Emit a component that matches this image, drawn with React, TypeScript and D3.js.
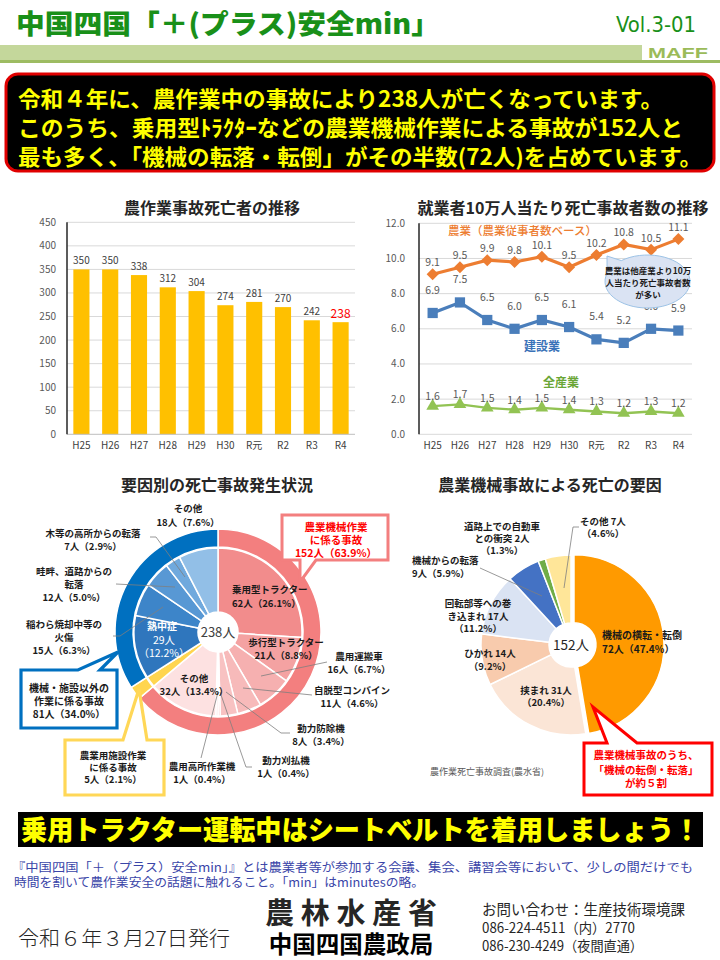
import React from "react";
import * as d3 from "d3";

const JP = "'Noto Sans CJK JP', 'Noto Sans', sans-serif";

// ---------------- data ----------------
const years = ["H25", "H26", "H27", "H28", "H29", "H30", "R元", "R2", "R3", "R4"];
const farmDeaths = [350, 350, 338, 312, 304, 274, 281, 270, 242, 238];
const deathTicks = [0, 50, 100, 150, 200, 250, 300, 350, 400, 450];

const rateTicks = [0, 2, 4, 6, 8, 10, 12];
const agriRate = [9.1, 9.5, 9.9, 9.8, 10.1, 9.5, 10.2, 10.8, 10.5, 11.1];
const constRate = [6.9, 7.5, 6.5, 6.0, 6.5, 6.1, 5.4, 5.2, 6.0, 5.9];
const allRate = [1.6, 1.7, 1.5, 1.4, 1.5, 1.4, 1.3, 1.2, 1.3, 1.2];

const groupNames = ["農業機械作業に係る事故", "農業用施設作業に係る事故", "機械・施設以外の作業に係る事故"];
const groupValues = [152, 5, 81];
const groupPct = ["63.9%", "2.1%", "34.0%"];

const detailNames = [
  "乗用型トラクター", "歩行型トラクター", "農用運搬車", "自脱型コンバイン", "動力防除機",
  "動力刈払機", "農用高所作業機", "その他", "農業用施設作業", "熱中症",
  "稲わら焼却中等の火傷", "畦畔、道路からの転落", "木等の高所からの転落", "その他",
];
const detailValues = [62, 21, 16, 11, 8, 1, 1, 32, 5, 29, 15, 12, 7, 18];
const detailPct = ["26.1%", "8.8%", "6.7%", "4.6%", "3.4%", "0.4%", "0.4%", "13.4%", "2.1%", "12.2%", "6.3%", "5.0%", "2.9%", "7.6%"];

const machineNames = ["機械の横転・転倒", "挟まれ", "ひかれ", "回転部等への巻き込まれ", "機械からの転落", "道路上での自動車との衝突", "その他"];
const machineValues = [72, 31, 14, 17, 9, 2, 7];
const machinePct = ["47.4%", "20.4%", "9.2%", "11.2%", "5.9%", "1.3%", "4.6%"];

const totalDeaths = 238;
const machineTotal = 152;

const headline = [
  "令和４年に、農作業中の事故により238人が亡くなっています。",
  "このうち、乗用型ﾄﾗｸﾀｰなどの農業機械作業による事故が152人と",
  "最も多く、「機械の転落・転倒」がその半数(72人)を占めています。",
];

// ---------------- styles ----------------
const groupColors = ["#f37f7f", "#ffd54f", "#0070c0"];
const detailColors = [
  "#f28c8c", "#f4a2a2", "#f6b0b0", "#f7baba", "#f8c2c2", "#f9caca", "#fad2d2", "#fde1e1",
  "#ffd54f", "#2f76bd", "#3d85c9", "#5898d4", "#70a9dd", "#92bfe7",
];
const machineColors = ["#ff9a00", "#fbe5d6", "#f8cbad", "#dae3f3", "#4472c4", "#70ad47", "#ffe699"];

type LP = { x: number; ys: number[]; anchor?: string };

function Lines({ x, ys, lines, size = 9.5, anchor = "middle", fill = "#1a1a1a", weight = 700 }: any) {
  return (
    <g>
      {lines.map((l: string, i: number) => (
        <text key={i} x={x} y={ys[i]} fontSize={size} fill={fill} fontWeight={weight}
          textAnchor={anchor} fontFamily={JP}>{l}</text>
      ))}
    </g>
  );
}

export default function App() {
  // ---- bar chart ----
  const xb = d3.scaleBand<string>().domain(years).range([67, 355]).paddingInner(0.44).paddingOuter(0.22);
  const yb = d3.scaleLinear().domain([0, 450]).range([434.3, 222.3]);

  // ---- line chart ----
  const xl = d3.scaleBand<string>().domain(years).range([419, 692]);
  const xlc = (i: number) => (xl(years[i]) as number) + xl.bandwidth() / 2;
  const yl = d3.scaleLinear().domain([0, 12]).range([434.3, 223.3]);
  const lineGen = d3.line<number>().x((_, i) => xlc(i)).y((d) => yl(d));
  const series = [
    { values: agriRate, color: "#ed7d31", width: 3.2, sym: d3.symbol(d3.symbolSquare, 72)(), rot: 45, off: 8 },
    { values: constRate, color: "#4a7ebb", width: 3.2, sym: d3.symbol(d3.symbolSquare, 105)(), rot: 0, off: 19 },
    { values: allRate, color: "#92c353", width: 2.4, sym: d3.symbol(d3.symbolTriangle, 70)(), rot: 0, off: 6 },
  ];

  // ---- left donut ----
  const pie = d3.pie<number>().sort(null).value((d) => d);
  const gArcs = pie(groupValues);
  const dArcs = pie(detailValues);
  const outerArc = d3.arc<d3.PieArcDatum<number>>().innerRadius(85).outerRadius(103);
  const innerArc = d3.arc<d3.PieArcDatum<number>>().innerRadius(20).outerRadius(84);
  const dc = [218, 632];

  // ---- right pie ----
  const mArcs = pie(machineValues);
  const mArc = d3.arc<d3.PieArcDatum<number>>().innerRadius(22).outerRadius(90);
  const mc = [571, 645];
  const explode = (a: d3.PieArcDatum<number>, i: number) => {
    if (i !== 0) return [0, 0];
    const m = (a.startAngle + a.endAngle) / 2;
    return [Math.sin(m) * 3, -Math.cos(m) * 3];
  };

  const pl = (i: number) => `${detailValues[i]}人（${detailPct[i]}）`;
  const ml = (i: number) => `${machineValues[i]}人`;

  const detailLabels: { i: number; lines: string[]; p: LP }[] = [
    { i: 0, lines: [detailNames[0], pl(0)], p: { x: 232, ys: [593, 607], anchor: "start" } },
    { i: 1, lines: [detailNames[1], pl(1)], p: { x: 286, ys: [646, 659] } },
    { i: 2, lines: [detailNames[2], pl(2)], p: { x: 359, ys: [660, 673] } },
    { i: 3, lines: [detailNames[3], pl(3)], p: { x: 352, ys: [694, 707] } },
    { i: 4, lines: [detailNames[4], pl(4)], p: { x: 321, ys: [732, 745] } },
    { i: 5, lines: [detailNames[5], pl(5)], p: { x: 286, ys: [764, 777] } },
    { i: 6, lines: [detailNames[6], pl(6)], p: { x: 202, ys: [770, 783] } },
    { i: 7, lines: [detailNames[7], pl(7)], p: { x: 194, ys: [682, 695] } },
    { i: 10, lines: ["稲わら焼却中等の", "火傷", pl(10)], p: { x: 64, ys: [628, 641, 654] } },
    { i: 11, lines: ["畦畔、道路からの", "転落", pl(11)], p: { x: 74, ys: [575, 588, 601] } },
    { i: 12, lines: [detailNames[12], pl(12)], p: { x: 93, ys: [537, 550] } },
    { i: 13, lines: [detailNames[13], pl(13)], p: { x: 188, ys: [512, 526] } },
  ];

  const leader = "#7f7f7f";

  return (
    <svg width={720} height={960} style={{ position: "absolute", left: 0, top: 0, background: "#fff" }}
      fontFamily={JP}>
      <rect x={0} y={0} width={720} height={960} fill="#fff" />

      {/* ---------- header ---------- */}
      <text x={16} y={34} fontSize={27} fontWeight={900} fill="#199019" textLength={424}
        lengthAdjust="spacingAndGlyphs">中国四国「＋(プラス)安全min」</text>
      <text x={616} y={32} fontSize={21} fill="#199019" textLength={80} lengthAdjust="spacingAndGlyphs"
        fontFamily="'Liberation Sans Narrow', 'DejaVu Sans Condensed', 'Liberation Sans', sans-serif">Vol.3-01</text>
      <rect x={0} y={45} width={642} height={15} fill="#c4d79b" />
      <rect x={0} y={60} width={720} height={3} fill="#9dbc62" />
      <text x={648} y={58} fontSize={14} fontWeight={700} fill="#9bbb59" textLength={60} lengthAdjust="spacingAndGlyphs"
        fontFamily="'Liberation Sans', Arial, sans-serif">MAFF</text>

      {/* ---------- headline box ---------- */}
      <rect x={6} y={74} width={708} height={97} rx={12} fill="#000" stroke="#e00000" strokeWidth={3} />
      {headline.map((t, i) => (
        <text key={i} x={18} y={[107, 136, 165][i]} fontSize={22} fontWeight={700} fill="#ffff00"
          textLength={[645, 665, 684][i]} lengthAdjust="spacingAndGlyphs">{t}</text>
      ))}

      {/* ---------- bar chart ---------- */}
      <text x={212} y={214} fontSize={16} fontWeight={700} fill="#262626" textAnchor="middle">農作業事故死亡者の推移</text>
      {deathTicks.map((t) => (
        <g key={t}>
          {t > 0 && <line x1={67} x2={355} y1={yb(t)} y2={yb(t)} stroke="#d9d9d9" strokeWidth={1} />}
          <text x={56} y={yb(t) + 3.5} fontSize={10} fill="#595959" textAnchor="end">{t}</text>
        </g>
      ))}
      {farmDeaths.map((v, i) => (
        <g key={i}>
          <rect x={xb(years[i])} y={yb(v)} width={xb.bandwidth()} height={yb(0) - yb(v)} fill="#ffc000" />
          <text x={(xb(years[i]) as number) + xb.bandwidth() / 2} y={yb(v) - (i === years.length - 1 ? 4 : 5)}
            fontSize={i === years.length - 1 ? 12 : 10} fill={i === years.length - 1 ? "#ff0000" : "#404040"}
            textAnchor="middle">{v}</text>
          <text x={(xb(years[i]) as number) + xb.bandwidth() / 2} y={449} fontSize={10} fill="#404040"
            textAnchor="middle">{years[i]}</text>
        </g>
      ))}
      <line x1={67} x2={355} y1={yb(0)} y2={yb(0)} stroke="#bfbfbf" strokeWidth={1} />
      <line x1={67} x2={67} y1={yb(450)} y2={yb(0)} stroke="#262626" strokeWidth={1.5} />

      {/* ---------- line chart ---------- */}
      <text x={563} y={214} fontSize={16} fontWeight={700} fill="#262626" textAnchor="middle">就業者10万人当たり死亡事故者数の推移</text>
      {rateTicks.map((t) => (
        <g key={t}>
          <line x1={419} x2={692} y1={yl(t)} y2={yl(t)} stroke="#d9d9d9" strokeWidth={1} />
          <text x={405} y={yl(t) + 3.5} fontSize={10} fill="#595959" textAnchor="end">{t.toFixed(1)}</text>
        </g>
      ))}
      <line x1={419} x2={419} y1={yl(12)} y2={yl(0)} stroke="#262626" strokeWidth={1.5} />
      {years.map((y, i) => (
        <text key={y} x={xlc(i)} y={449} fontSize={10} fill="#404040" textAnchor="middle">{y}</text>
      ))}
      {series.map((s, k) => (
        <g key={k}>
          <path d={lineGen(s.values) as string} fill="none" stroke={s.color} strokeWidth={s.width} />
          {s.values.map((v, i) => (
            <g key={i}>
              <path d={s.sym as string} transform={`translate(${xlc(i)},${yl(v)}) rotate(${s.rot})`} fill={s.color} />
              <text x={xlc(i)} y={yl(v) - s.off} fontSize={10.5} fill="#595959" textAnchor="middle">{v.toFixed(1)}</text>
            </g>
          ))}
        </g>
      ))}
      <text x={448} y={235} fontSize={11.5} fontWeight={500} fill="#ed7d31">農業（農業従事者数ベース）</text>
      <text x={542} y={351} fontSize={12} fontWeight={700} fill="#3a72b8" textAnchor="middle">建設業</text>
      <text x={561} y={387} fontSize={12} fontWeight={700} fill="#6aa636" textAnchor="middle">全産業</text>
      {(() => {
        const cx = 647.5, cy = 281.5, rx = 42.5, ry = 26.5;
        const pt = (deg: number) => [cx + rx * Math.cos((deg * Math.PI) / 180), cy + ry * Math.sin((deg * Math.PI) / 180)];
        const a = pt(198), b = pt(232);
        const d = `M${b[0]},${b[1]} A${rx},${ry} 0 1 1 ${a[0]},${a[1]} L607,256 Z`;
        return (
          <g>
            <path d={d} fill="#dae3f3" stroke="#9dc3e6" strokeWidth={1} />
            <Lines x={648} ys={[274, 286, 298]} size={8.5} weight={700} fill="#1a1a1a"
              lines={["農業は他産業より10万", "人当たり死亡事故者数", "が多い"]} />
          </g>
        );
      })()}

      {/* ---------- left donut ---------- */}
      <text x={217} y={491} fontSize={16} fontWeight={700} fill="#262626" textAnchor="middle">要因別の死亡事故発生状況</text>
      <g transform={`translate(${dc[0]},${dc[1]})`}>
        {gArcs.map((a, i) => (
          <path key={i} d={outerArc(a) as string} fill={groupColors[i]} stroke="#fff" strokeWidth={1.5} />
        ))}
        {dArcs.map((a, i) => (
          <path key={i} d={innerArc(a) as string} fill={detailColors[i]} stroke="#fff" strokeWidth={1.5} />
        ))}
        <circle r={20} fill="#fff" />
        <text y={5} fontSize={13} fill="#404040" textAnchor="middle">{totalDeaths}人</text>
      </g>
      <g fill="none" stroke={leader} strokeWidth={0.8}>
        <polyline points="150,537 156,537 185,577" />
        <polyline points="116,584 175,587" />
        <polyline points="113,636 120,636 163,607" />
        <polyline points="327,662 261,676" />
        <polyline points="312,695 243,688" />
        <polyline points="226,692 281,733 290,733" />
        <polyline points="220,692 246,767 252,767" />
        <polyline points="218,692 201,758" />
      </g>
      {detailLabels.map((l, k) => (
        <Lines key={k} x={l.p.x} ys={l.p.ys} anchor={l.p.anchor || "middle"} lines={l.lines} />
      ))}
      <Lines x={162} ys={[630]} fill="#fff" size={10} lines={[detailNames[9]]} />
      <Lines x={164} ys={[644, 657]} fill="#fff" size={10.5} weight={400}
        lines={[`${detailValues[9]}人`, `（${detailPct[9]}）`]} />

      <path d="M282,515 L388,515 L388,560 L316,560 L300,582 L300,560 L282,560 Z" fill="#fff" stroke="#f37f7f" strokeWidth={3} />
      <Lines x={336} ys={[531, 544, 557]} size={10.5} fill="#ff0000"
        lines={["農業機械作業", "に係る事故", `${groupValues[0]}人（${groupPct[0]}）`]} />
      <path d="M21,670 L78,670 L118,652 L100,670 L117,670 L117,728 L21,728 Z" fill="#fff" stroke="#0070c0" strokeWidth={3.2} />
      <Lines x={69} ys={[692, 705, 718]} size={10}
        lines={["機械・施設以外の", "作業に係る事故", `${groupValues[2]}人（${groupPct[2]}）`]} />
      <path d="M65,740 L123,740 L139,689 L147,740 L164,740 L164,795 L65,795 Z" fill="#fff" stroke="#ffd757" strokeWidth={3.2} />
      <Lines x={113} ys={[759, 771, 783]} size={9.5}
        lines={["農業用施設作業", "に係る事故", `${groupValues[1]}人（${groupPct[1]}）`]} />

      {/* ---------- right pie ---------- */}
      <text x={550} y={491} fontSize={16} fontWeight={700} fill="#262626" textAnchor="middle">農業機械事故による死亡の要因</text>
      <g transform={`translate(${mc[0]},${mc[1]})`}>
        {mArcs.map((a, i) => {
          const [dx, dy] = explode(a, i);
          return <path key={i} d={mArc(a) as string} transform={`translate(${dx},${dy})`} fill={machineColors[i]}
            stroke="#fff" strokeWidth={1.5} />;
        })}
        <circle r={21} fill="#fff" />
        <text y={5} fontSize={13.5} fill="#262626" textAnchor="middle">{machineTotal}人</text>
      </g>
      <g fill="none" stroke={leader} strokeWidth={0.8}>
        <polyline points="579,527 573,527 564,588" />
        <polyline points="480,568 542,596" />
      </g>
      <Lines x={603} ys={[525, 537]} lines={[`${machineNames[6]} ${ml(6)}`, `（${machinePct[6]}）`]} />
      <Lines x={502} ys={[530, 542, 554]} lines={["道路上での自動車", `との衝突 ${ml(5)}`, `（${machinePct[5]}）`]} />
      <Lines x={412} ys={[564, 577]} anchor="start" lines={[machineNames[4], `${ml(4)}（${machinePct[4]}）`]} />
      <Lines x={478} ys={[607, 619.5, 632]} lines={["回転部等への巻", `き込まれ ${ml(3)}`, `（${machinePct[3]}）`]} />
      <Lines x={490} ys={[657, 670]} lines={[`${machineNames[2]} ${ml(2)}`, `（${machinePct[2]}）`]} />
      <Lines x={546} ys={[694, 706]} lines={[`${machineNames[1]} ${ml(1)}`, `（${machinePct[1]}）`]} />
      <Lines x={602} ys={[639, 653]} anchor="start" size={10} lines={[machineNames[0], `${ml(0)}（${machinePct[0]}）`]} />
      <text x={430} y={775} fontSize={9} fill="#595959">農作業死亡事故調査(農水省)</text>
      <path d="M584,743 L607,743 L593,707 L637,743 L712,743 L712,795 L584,795 Z" fill="#fff" stroke="#ff0000" strokeWidth={3} />
      <Lines x={646} ys={[759, 774, 787]} size={10.5} fill="#ff0000"
        lines={["農業機械事故のうち、", "「機械の転倒・転落」", "が約５割"]} />

      {/* ---------- banner ---------- */}
      <rect x={18} y={812} width={685} height={35} fill="#000" />
      <text x={21} y={840} fontSize={27} fontWeight={900} fill="#ffff00" textLength={679}
        lengthAdjust="spacingAndGlyphs">乗用トラクター運転中はシートベルトを着用しましょう！</text>

      <text x={12} y={872} fontSize={12} fill="#3a45a8" textLength={681} lengthAdjust="spacingAndGlyphs">
        『中国四国「＋（プラス）安全min」』とは農業者等が参加する会議、集会、講習会等において、少しの間だけでも</text>
      <text x={14} y={887} fontSize={12} fill="#3a45a8" textLength={410} lengthAdjust="spacingAndGlyphs">
        時間を割いて農作業安全の話題に触れること。「min」はminutesの略。</text>

      {/* ---------- footer ---------- */}
      <text x={18} y={946} fontSize={20} fontWeight={300} fill="#262626" textLength={212}
        lengthAdjust="spacingAndGlyphs">令和６年３月27日発行</text>
      <text x={351} y={924} fontSize={29} fontWeight={700} fill="#262626" textAnchor="middle" textLength={172}
        lengthAdjust="spacing">農林水産省</text>
      <text x={351} y={953} fontSize={23.5} fontWeight={700} fill="#000" textAnchor="middle">中国四国農政局</text>
      <text x={482} y={915} fontSize={14.5} fill="#262626">お問い合わせ：生産技術環境課</text>
      <text x={482} y={933} fontSize={14} fill="#262626" textLength={153} lengthAdjust="spacingAndGlyphs">086-224-4511（内）2770</text>
      <text x={482} y={951} fontSize={14} fill="#262626" textLength={161} lengthAdjust="spacingAndGlyphs">086-230-4249（夜間直通）</text>
    </svg>
  );
}
